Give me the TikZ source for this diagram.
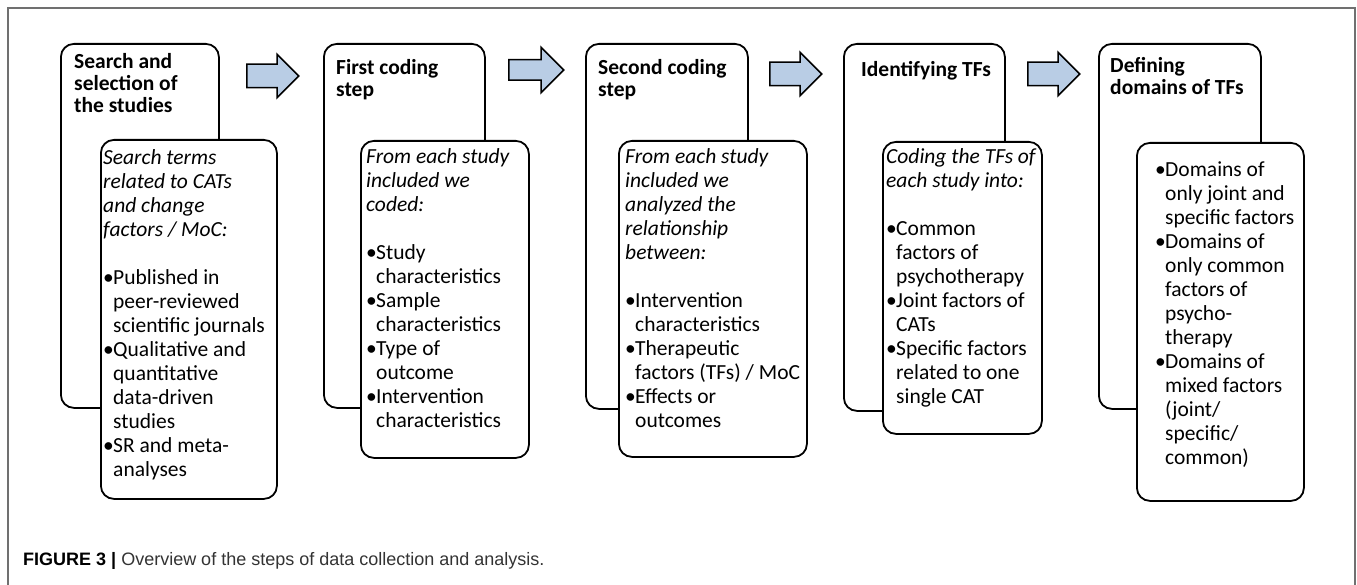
\documentclass[tikz,border=0pt]{standalone}
\usepackage{fontspec}
\setmainfont{Carlito}
\newfontfamily\capfont{Liberation Sans}
\usetikzlibrary{shapes.arrows}

\definecolor{arrowblue}{HTML}{B9CDE5}
\definecolor{framegray}{HTML}{707070}
\definecolor{captext}{HTML}{333333}

% bullet and hanging indent for the detail lists
\newcommand{\bitem}{\makebox[10pt][l]{\textbullet}}
\newcommand{\bcont}{\hspace*{10pt}}

\tikzset{
  stepbox/.style={draw, line width=1.8pt, rounded corners=13pt, anchor=north west, inner sep=0pt},
  detailbox/.style={stepbox, fill=white},
  % text nodes are placed by the baseline of their last line
  steptitle/.style={anchor=base west, align=left, inner sep=0pt, font=\fontsize{21.5}{22}\selectfont\bfseries},
  stepdetail/.style={anchor=base west, align=left, inner sep=0pt, font=\fontsize{21.5}{24}\selectfont},
  flowarrow/.style={single arrow, draw, fill=arrowblue, line width=1.5pt, minimum height=52pt,
    inner xsep=0pt, inner ysep=11pt, single arrow head extend=10pt, anchor=tail},
}

\begin{document}
\begin{tikzpicture}[x=1pt, y=-1pt]
    \useasboundingbox (0,0) rectangle (1357,585);
    % figure frame
    \draw[framegray, line width=2pt] (8,585) -- (8,8) -- (1355,8) -- (1355,585);

    % Step 1: search and selection
    \node[stepbox, minimum width=158pt, minimum height=364pt] (s1) at (60,43) {};
    \node[steptitle] (t1) at (74,113) {Search and\\selection of\\the studies};
    \node[detailbox, minimum width=176pt, minimum height=359pt] (d1) at (100,139) {};
    \node[stepdetail] (x1) at (103,476) {\itshape Search terms\\\itshape related to CATs\\\itshape and change\\\itshape factors / MoC:\\[24pt]
        \bitem Published in\\ \bcont peer-reviewed\\ \bcont scientific journals\\
        \bitem Qualitative and\\ \bcont quantitative\\ \bcont data-driven\\ \bcont studies\\
        \bitem SR and meta-\\ \bcont analyses};

    % Step 2: first coding
    \node[stepbox, minimum width=161pt, minimum height=364pt] (s2) at (323,43) {};
    \node[steptitle] (t2) at (336,97) {First coding\\step};
    \node[detailbox, minimum width=168pt, minimum height=317pt] (d2) at (360,140) {};
    \node[stepdetail] (x2) at (366,427) {\itshape From each study\\\itshape included we\\\itshape coded:\\[24pt]
        \bitem Study\\ \bcont characteristics\\
        \bitem Sample\\ \bcont characteristics\\
        \bitem Type of\\ \bcont outcome\\
        \bitem Intervention\\ \bcont characteristics};

    % Step 3: second coding
    \node[stepbox, minimum width=162pt, minimum height=365pt] (s3) at (585,43) {};
    \node[steptitle] (t3) at (598,97) {Second coding\\step};
    \node[detailbox, minimum width=188pt, minimum height=316pt] (d3) at (618,140) {};
    \node[stepdetail] (x3) at (625,427) {\itshape From each study\\\itshape included we\\\itshape analyzed the\\\itshape relationship\\\itshape between:\\[24pt]
        \bitem Intervention\\ \bcont characteristics\\
        \bitem Therapeutic\\ \bcont factors (TFs) / MoC\\
        \bitem Effects or\\ \bcont outcomes};

    % Step 4: identifying TFs
    \node[stepbox, minimum width=161pt, minimum height=367pt] (s4) at (843,43) {};
    \node[steptitle] (t4) at (861,77) {Identifying TFs};
    \node[detailbox, minimum width=159pt, minimum height=292pt] (d4) at (882,141) {};
    \node[stepdetail] (x4) at (886,403) {\itshape Coding the TFs of\\\itshape each study into:\\[24pt]
        \bitem Common\\ \bcont factors of\\ \bcont psychotherapy\\
        \bitem Joint factors of\\ \bcont CATs\\
        \bitem Specific factors\\ \bcont related to one\\ \bcont single CAT};

    % Step 5: defining domains
    \node[stepbox, minimum width=162pt, minimum height=365pt] (s5) at (1098,43) {};
    \node[steptitle] (t5) at (1110,95) {Defining\\domains of TFs};
    \node[detailbox, minimum width=167pt, minimum height=358pt] (d5) at (1136,142) {};
    \node[stepdetail] (x5) at (1155,464) {\bitem Domains of\\ \bcont only joint and\\ \bcont specific factors\\
        \bitem Domains of\\ \bcont only common\\ \bcont factors of\\ \bcont psycho-\\ \bcont therapy\\
        \bitem Domains of\\ \bcont mixed factors\\ \bcont (joint/\\ \bcont specific/\\ \bcont common)};

    % block arrows between the steps
    \node[flowarrow] (a1) at (246,76) {};
    \node[flowarrow, minimum height=55pt, inner ysep=9.5pt, single arrow head extend=12.5pt] (a2) at (508,70) {};
    \node[flowarrow] (a3) at (769,74) {};
    \node[flowarrow] (a4) at (1027,74) {};

    % caption
    \node[anchor=base west, inner sep=0pt, font=\capfont\fontsize{18}{20}\selectfont] (cap) at (23,565)
        {\textbf{FIGURE 3 |} \textcolor{captext}{Overview of the steps of data collection and analysis.}};
\end{tikzpicture}
\end{document}
